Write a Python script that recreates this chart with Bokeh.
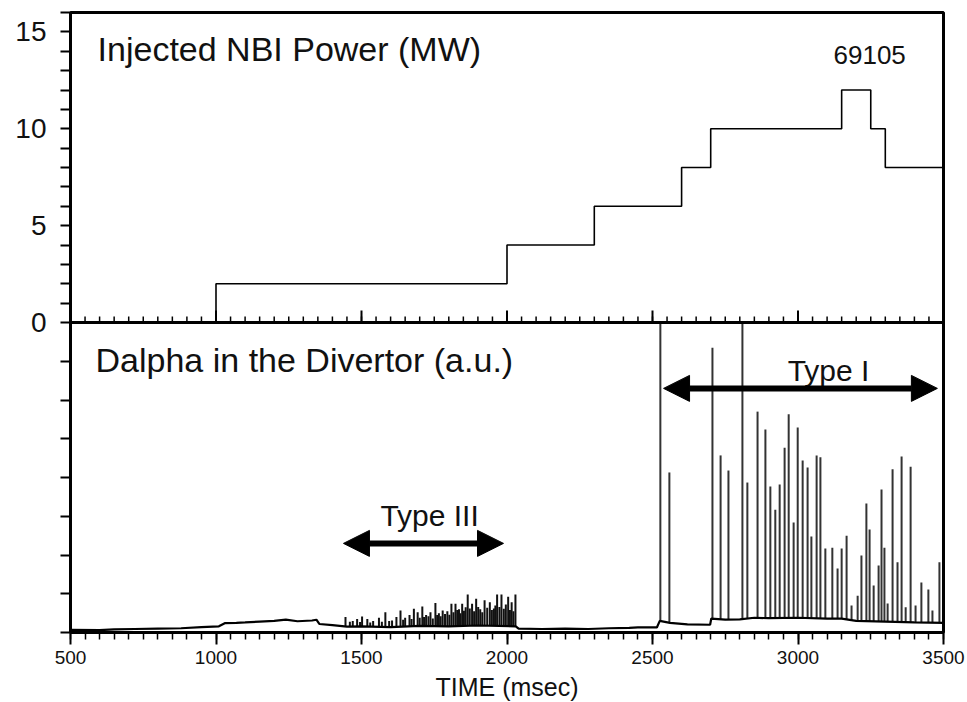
from bokeh.plotting import figure
from bokeh.models import Range1d, FixedTicker, Label, Arrow, NormalHead, Span
from bokeh.embed import file_html
from bokeh.resources import INLINE
import numpy as np

# ---------------- data ----------------
nbi_time = [500, 1000, 2000, 2300, 2600, 2700, 3150, 3250, 3300, 3500]
nbi_power = [0, 2, 4, 6, 8, 10, 12, 10, 8, 8]

base_time = [500, 600, 650, 720, 800, 880, 950, 1010, 1030, 1070, 1100, 1150, 1200,
             1240, 1280, 1330, 1345, 1355, 1400, 1450, 1500, 1600, 1700, 1800, 1900,
             2030, 2040, 2120, 2200, 2280, 2350, 2420, 2450, 2515, 2525, 2560, 2620,
             2698, 2702, 2750, 2800, 2850, 2900, 3000, 3100, 3150, 3200, 3300, 3400, 3500]
base_level = [0.07, 0.06, 0.08, 0.09, 0.10, 0.11, 0.14, 0.16, 0.24, 0.25, 0.26, 0.28,
              0.30, 0.33, 0.29, 0.31, 0.33, 0.22, 0.19, 0.15, 0.16, 0.14, 0.17, 0.16,
              0.18, 0.16, 0.10, 0.09, 0.10, 0.09, 0.11, 0.12, 0.13, 0.13, 0.30, 0.25,
              0.21, 0.20, 0.36, 0.33, 0.34, 0.38, 0.37, 0.38, 0.36, 0.36, 0.30, 0.28,
              0.26, 0.25]

type3_time = [1445, 1460, 1470, 1485, 1495, 1502, 1520, 1530, 1540, 1560, 1570, 1582,
              1595, 1605, 1620, 1634, 1643, 1650, 1665, 1672, 1680, 1693, 1700, 1709,
              1715, 1722, 1730, 1737, 1745, 1754, 1760, 1766, 1772, 1779, 1787, 1795,
              1802, 1809, 1816, 1823, 1829, 1835, 1840, 1846, 1852, 1858, 1865, 1872,
              1880, 1887, 1894, 1901, 1908, 1915, 1923, 1932, 1941, 1948, 1955, 1960,
              1966, 1974, 1981, 1989, 1996, 2004, 2010, 2016, 2022, 2029]
type3_height = [0.40, 0.28, 0.30, 0.35, 0.27, 0.41, 0.35, 0.26, 0.30, 0.38, 0.28, 0.52,
                0.30, 0.31, 0.40, 0.57, 0.33, 0.38, 0.45, 0.35, 0.61, 0.52, 0.38, 0.67,
                0.40, 0.45, 0.42, 0.52, 0.36, 0.76, 0.45, 0.50, 0.42, 0.57, 0.48, 0.55,
                0.46, 0.74, 0.52, 0.74, 0.58, 0.60, 0.50, 0.74, 0.56, 0.65, 0.98, 0.62,
                0.74, 0.55, 0.87, 0.66, 0.60, 0.52, 0.83, 0.64, 0.78, 0.58, 0.62, 0.70,
                0.98, 0.66, 0.98, 0.61, 0.72, 0.92, 0.58, 0.78, 0.55, 0.98]

type1_time = [2527, 2558, 2706, 2734, 2761, 2809, 2826, 2861, 2888, 2905, 2922, 2937,
              2954, 2968, 2985, 2999, 3016, 3033, 3046, 3064, 3077, 3094, 3118, 3136,
              3150, 3167, 3184, 3205, 3218, 3235, 3246, 3260, 3277, 3287, 3297, 3308,
              3325, 3342, 3356, 3370, 3387, 3404, 3424, 3448, 3462, 3486]
type1_height = [8.0, 4.13, 7.35, 4.57, 4.18, 8.0, 3.87, 5.70, 5.24, 3.77, 3.17, 3.82,
                4.77, 5.63, 2.84, 5.29, 4.44, 4.26, 2.48, 4.57, 4.52, 2.17, 2.19, 1.65,
                2.17, 2.50, 0.70, 0.95, 1.99, 3.33, 2.66, 1.21, 1.73, 3.69, 2.19, 0.75,
                4.21, 1.81, 4.54, 0.65, 4.28, 0.70, 1.29, 1.11, 0.57, 1.81]

x_ticks = [500, 1000, 1500, 2000, 2500, 3000, 3500]
x_tick_labels = ["500", "1000", "1500", "2000", "2500", "3000", "3500"]
x_minor_step = 50
top_y_ticks = list(range(0, 17))
top_y_labelled = {0: "0", 5: "5", 10: "10", 15: "15"}
bottom_y_ticks = list(range(0, 8))   # bottom panel, in its own units (0..8)

FONT = "Liberation Sans"
TXT = "#111111"

# ---------------- figure ----------------
# default y range = top panel (0..16 on the upper half); "dalpha" = bottom panel (0..8 on lower half)
p = figure(frame_width=873, frame_height=620,
           x_range=Range1d(500, 3500), y_range=Range1d(-16, 16),
           extra_y_ranges={"dalpha": Range1d(0, 16)},
           output_backend="svg", toolbar_location=None,
           min_border_left=70, min_border_right=22, min_border_top=12, min_border_bottom=70)
p.grid.visible = False
p.outline_line_color = "black"
p.outline_line_width = 3
p.background_fill_color = "white"
p.border_fill_color = "white"

minor = list(range(x_ticks[0], x_ticks[-1] + 1, x_minor_step))

xa = p.xaxis[0]
xa.ticker = FixedTicker(ticks=x_ticks, minor_ticks=minor)
xa.major_label_overrides = {t: s for t, s in zip(x_ticks, x_tick_labels)}
xa.axis_line_width = 3
xa.major_tick_line_width = 2
xa.minor_tick_line_width = 1.5
xa.major_tick_in = 0
xa.major_tick_out = 12
xa.minor_tick_in = 0
xa.minor_tick_out = 7
xa.major_label_text_font = FONT
xa.major_label_text_font_size = "19px"
xa.major_label_text_color = TXT
xa.major_label_standoff = 6
xa.axis_label = "TIME (msec)"
xa.axis_label_text_font = FONT
xa.axis_label_text_font_size = "25px"
xa.axis_label_text_font_style = "normal"
xa.axis_label_text_color = TXT
xa.axis_label_standoff = 6

# one left axis for both panels: top ticks in top units, bottom ticks mapped onto the shared scale
dalpha_rng = p.extra_y_ranges["dalpha"]
scale = (p.y_range.end - p.y_range.start) / (dalpha_rng.end - dalpha_rng.start)
bottom_ticks_on_top_scale = [p.y_range.start + (v - dalpha_rng.start) * scale for v in bottom_y_ticks]
all_y_ticks = bottom_ticks_on_top_scale + top_y_ticks
ya = p.yaxis[0]
ya.ticker = FixedTicker(ticks=all_y_ticks, minor_ticks=[])
ya.major_label_overrides = {t: top_y_labelled.get(t, "") for t in all_y_ticks}
ya.axis_line_width = 3
ya.major_tick_line_width = 2
ya.major_tick_in = 0
ya.major_tick_out = 10
ya.minor_tick_line_color = None
ya.major_label_text_font = FONT
ya.major_label_text_font_size = "28px"
ya.major_label_text_color = TXT
ya.major_label_standoff = 14

# panel divider and its upward ticks (the top panel's time axis)
p.add_layout(Span(location=0, dimension="width", line_color="black", line_width=3))
p.ray(x=x_ticks, y=0, length=12, length_units="screen", angle=np.pi / 2,
      line_color="black", line_width=2)
p.ray(x=minor, y=0, length=6, length_units="screen", angle=np.pi / 2,
      line_color="black", line_width=1.5)

# ---------------- glyphs ----------------
p.step(nbi_time, nbi_power, mode="after", line_color="black", line_width=1.6)

foot3 = np.interp(type3_time, base_time, base_level)
p.segment(x0=type3_time, y0=foot3, x1=type3_time, y1=type3_height,
          line_color="#111111", line_width=2, y_range_name="dalpha")
foot1 = np.interp(type1_time, base_time, base_level)
p.segment(x0=type1_time, y0=foot1, x1=type1_time, y1=type1_height,
          line_color="#333333", line_width=2, y_range_name="dalpha")
p.line(base_time, base_level, line_color="black", line_width=2.2, y_range_name="dalpha")

# ---------------- annotations ----------------
p.add_layout(Label(x=593, y=14.14, text="Injected NBI Power (MW)", text_font=FONT,
                   text_font_size="34px", text_color=TXT, text_baseline="alphabetic"))
p.add_layout(Label(x=3122, y=13.83, text="69105", text_font=FONT,
                   text_font_size="26px", text_color=TXT, text_baseline="alphabetic"))
p.add_layout(Label(x=586, y=7.02, text="Dalpha in the Divertor (a.u.)", text_font=FONT,
                   text_font_size="34px", text_color=TXT, text_baseline="alphabetic",
                   y_range_name="dalpha"))
p.add_layout(Label(x=1734, y=3.02, text="Type III", text_font=FONT, text_align="center",
                   text_font_size="30px", text_color=TXT, text_baseline="alphabetic",
                   y_range_name="dalpha"))
p.add_layout(Label(x=3105, y=6.76, text="Type I", text_font=FONT, text_align="center",
                   text_font_size="30px", text_color=TXT, text_baseline="alphabetic",
                   y_range_name="dalpha"))

for (xs, xe, yy) in [(1438, 1988, 2.30), (2538, 3479, 6.30)]:
    p.add_layout(Arrow(start=NormalHead(size=26, fill_color="black", line_color="black"),
                       end=NormalHead(size=26, fill_color="black", line_color="black"),
                       x_start=xs, y_start=yy, x_end=xe, y_end=yy,
                       line_color="black", line_width=6, y_range_name="dalpha"))

open("out.html", "w").write(file_html(p, INLINE))
